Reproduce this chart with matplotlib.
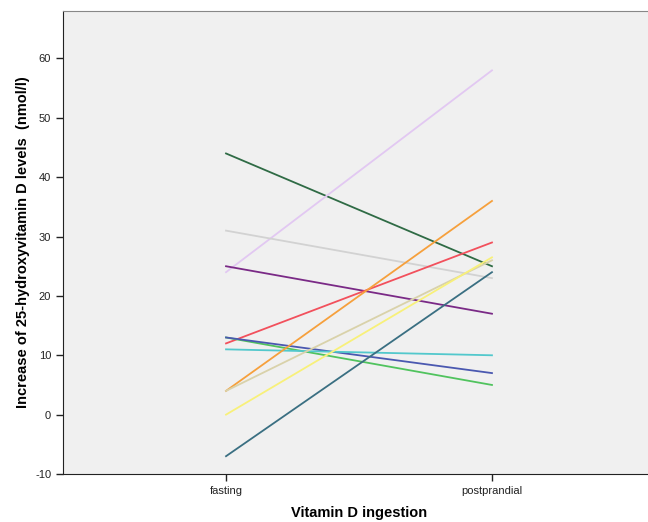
import matplotlib.pyplot as plt

categories = ['fasting', 'postprandial']

# fasting -> postprandial values for each subject
fasting = [44, 24, 31, 25, 12, 13, 13, 11, 4, 4, 0, -7]
postprandial = [25, 58, 23, 17, 29, 5, 7, 10, 36, 26, 26.5, 24]
colors = ['#2f6b45', '#e2c8f2', '#d2d2d2', '#7a2a86', '#f2505c', '#50c35e',
          '#4a58b0', '#52c8cc', '#f6a03c', '#d9d2aa', '#f8f07a', '#3a6f82']

plt.rcParams['font.family'] = ['Liberation Sans', 'DejaVu Sans']
plt.rcParams['axes.unicode_minus'] = False

fig = plt.figure(figsize=(6.48, 5.22), dpi=100)
ax = fig.add_axes([63 / 648, 48 / 522, 592 / 648, 463 / 522])
ax.set_facecolor('#f0f0f0')

x = [0, 1]
for f, p, c in zip(fasting, postprandial, colors):
    ax.plot(x, [f, p], color=c, linewidth=1.3)

ax.set_xlim(-0.613, 1.613)
ax.set_ylim(-10, 68)
ax.set_xticks(x)
ax.set_xticklabels(categories, fontsize=8)
ax.set_yticks(range(-10, 61, 10))
ax.tick_params(axis='both', labelsize=8, length=5, width=1, colors='#222222')

ax.spines['right'].set_visible(False)
ax.spines['top'].set_color('#888888')
ax.spines['left'].set_color('#222222')
ax.spines['bottom'].set_color('#222222')

ax.set_xlabel('Vitamin D ingestion', fontsize=10.5, fontweight='bold', labelpad=7)
ax.set_ylabel('Increase of 25-hydroxyvitamin D levels  (nmol/l)', fontsize=10.5,
              fontweight='bold', labelpad=4)

fig.savefig('out.png', dpi=100)
